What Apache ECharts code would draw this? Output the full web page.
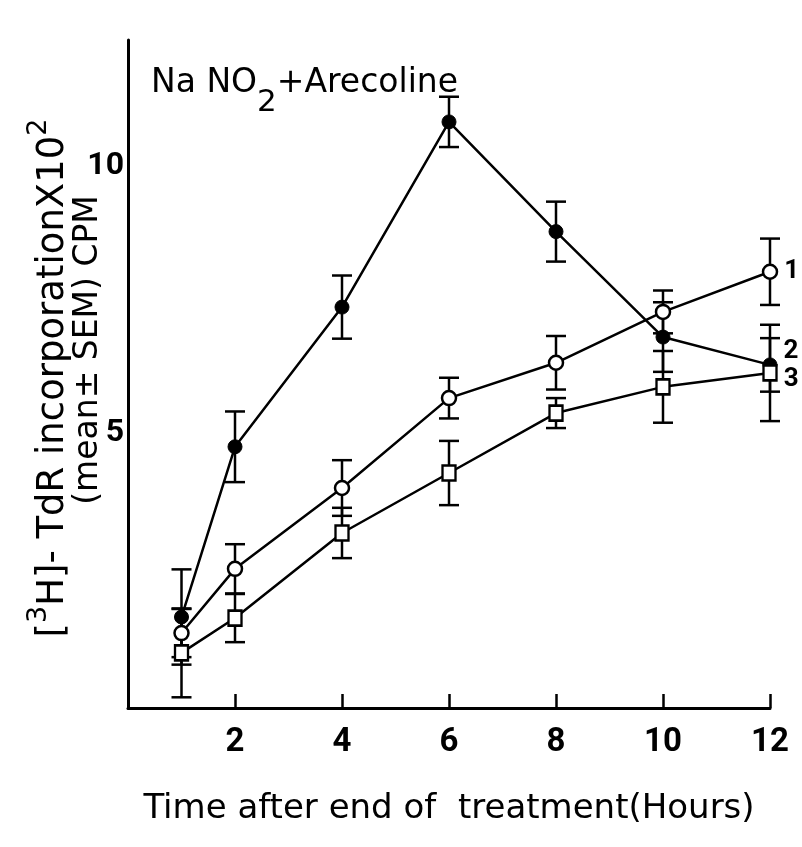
<!DOCTYPE html>
<html>
<head>
<meta charset="utf-8">
<script src="https://cdn.jsdelivr.net/npm/echarts@6/dist/echarts.min.js"></script>
<style>html,body{margin:0;padding:0;background:#fff}#c{width:802px;height:847px}</style>
</head>
<body>
<div id="c"></div>
<script>
// ---- data ----
const hours = [1, 2, 4, 6, 8, 10, 12];
const xTicks = [2, 4, 6, 8, 10, 12];
const yTicks = [5, 10];
// curve 1 : open circles
const openMean = [1.27, 2.47, 3.98, 5.66, 6.32, 7.27, 8.02];
const openSem  = [0.45, 0.46, 0.52, 0.38, 0.50, 0.40, 0.62];
// curve 2 : filled circles
const filledMean = [1.57, 4.75, 7.36, 10.82, 8.77, 6.80, 6.28];
const filledSem  = [0.89, 0.66, 0.59, 0.47, 0.56, 0.65, 0.50];
// curve 3 : open squares
const squareMean = [0.90, 1.55, 3.14, 4.26, 5.38, 5.87, 6.13];
const squareSem  = [0.83, 0.45, 0.47, 0.60, 0.28, 0.67, 0.90];
const curveLabels = ['1', '2', '3'];

const FONT = '"DejaVu Sans", sans-serif';
const NUMFONT = 'Roboto, "DejaVu Sans", sans-serif';

function pts(mean, label, offset) {
  return hours.map((h, i) => {
    const item = { value: [h, mean[i]] };
    if (i === hours.length - 1) {
      item.label = { show: true, formatter: label, position: 'right', distance: 6, offset: offset,
        fontFamily: NUMFONT, fontSize: 26, fontWeight: 'bold', color: '#000' };
    }
    return item;
  });
}
function errs(mean, sem) {
  return hours.map((h, i) => [h, mean[i] - sem[i], mean[i] + sem[i]]);
}
const errData = [].concat(errs(openMean, openSem), errs(filledMean, filledSem), errs(squareMean, squareSem));

const chart = echarts.init(document.getElementById('c'), null, { renderer: 'canvas' });
chart.setOption({
  animation: false,
  backgroundColor: '#fff',
  title: {
    left: 146, top: 62,
    text: '{a|Na NO}{b|2}{a|+Arecoline}',
    textStyle: {
      fontWeight: 'normal',
      rich: {
        a: { fontFamily: FONT, fontSize: 33, fontWeight: 'normal', color: '#000', lineHeight: 38, verticalAlign: 'top' },
        b: { fontFamily: FONT, fontSize: 31, fontWeight: 'normal', color: '#000', lineHeight: 38, padding: [20, 0, 0, 0], verticalAlign: 'top' }
      }
    }
  },
  graphic: [
    {
      type: 'text', x: 52, y: 378, rotation: Math.PI / 2,
      style: {
        text: '{a|[}{s|3}{a|H]- TdR incorporationX10}{s|2}',
        align: 'center', verticalAlign: 'middle', fill: '#000',
        rich: {
          a: { fontFamily: FONT, fontSize: 37, lineHeight: 40, verticalAlign: 'bottom' },
          s: { fontFamily: FONT, fontSize: 27, lineHeight: 29, padding: [0, 0, 20, 0], verticalAlign: 'bottom' }
        }
      }
    },
    {
      type: 'text', x: 88, y: 350, rotation: Math.PI / 2,
      style: {
        text: '(mean± SEM) CPM',
        align: 'center', verticalAlign: 'middle', fill: '#000',
        font: '33px ' + FONT
      }
    }
  ],
  grid: { left: 128, right: 32, top: 40, bottom: 139 },
  xAxis: {
    type: 'value', min: 0, max: 12, interval: 2,
    axisLine: { onZero: false, lineStyle: { color: '#000', width: 3 } },
    axisTick: { show: true, inside: true, length: 14, lineStyle: { color: '#000', width: 2.5 } },
    axisLabel: {
      margin: 18, color: '#000',
      fontFamily: NUMFONT, fontSize: 33, fontWeight: 'bold',
      customValues: xTicks
    },
    splitLine: { show: false },
    name: 'Time after end of  treatment(Hours)',
    nameLocation: 'middle', nameGap: 84,
    nameTextStyle: { fontFamily: FONT, fontSize: 34, color: '#000' }
  },
  yAxis: {
    type: 'value', min: -0.13, max: 12.35,
    axisLine: { show: true, lineStyle: { color: '#000', width: 3 } },
    axisTick: { show: false },
    axisLabel: {
      customValues: yTicks, margin: 4, color: '#000',
      fontFamily: NUMFONT, fontSize: 32, fontWeight: 'bold'
    },
    splitLine: { show: false }
  },
  series: [
    {
      type: 'custom', name: 'sem', z: 1,
      renderItem: function (params, api) {
        const x = api.value(0);
        const lo = api.coord([x, api.value(1)]);
        const hi = api.coord([x, api.value(2)]);
        const hw = 10;
        const st = { stroke: '#000', lineWidth: 2.5 };
        return {
          type: 'group',
          children: [
            { type: 'line', shape: { x1: lo[0], y1: lo[1], x2: hi[0], y2: hi[1] }, style: st },
            { type: 'line', shape: { x1: lo[0] - hw, y1: lo[1], x2: lo[0] + hw, y2: lo[1] }, style: st },
            { type: 'line', shape: { x1: hi[0] - hw, y1: hi[1], x2: hi[0] + hw, y2: hi[1] }, style: st }
          ]
        };
      },
      encode: { x: 0, y: [1, 2] },
      data: errData
    },
    {
      type: 'line', name: '1', z: 3,
      data: pts(openMean, curveLabels[0], [0, 0]),
      symbol: 'circle', symbolSize: 14,
      lineStyle: { color: '#000', width: 2.5 },
      itemStyle: { color: '#fff', borderColor: '#000', borderWidth: 2.5 }
    },
    {
      type: 'line', name: '2', z: 3,
      data: pts(filledMean, curveLabels[1], [0, -13]),
      symbol: 'circle', symbolSize: 14,
      lineStyle: { color: '#000', width: 2.5 },
      itemStyle: { color: '#000', borderColor: '#000', borderWidth: 1 }
    },
    {
      type: 'line', name: '3', z: 3,
      data: pts(squareMean, curveLabels[2], [0, 7]),
      symbol: 'rect', symbolSize: [13, 15],
      lineStyle: { color: '#000', width: 2.5 },
      itemStyle: { color: '#fff', borderColor: '#000', borderWidth: 2.5 }
    }
  ]
});
</script>
</body>
</html>
